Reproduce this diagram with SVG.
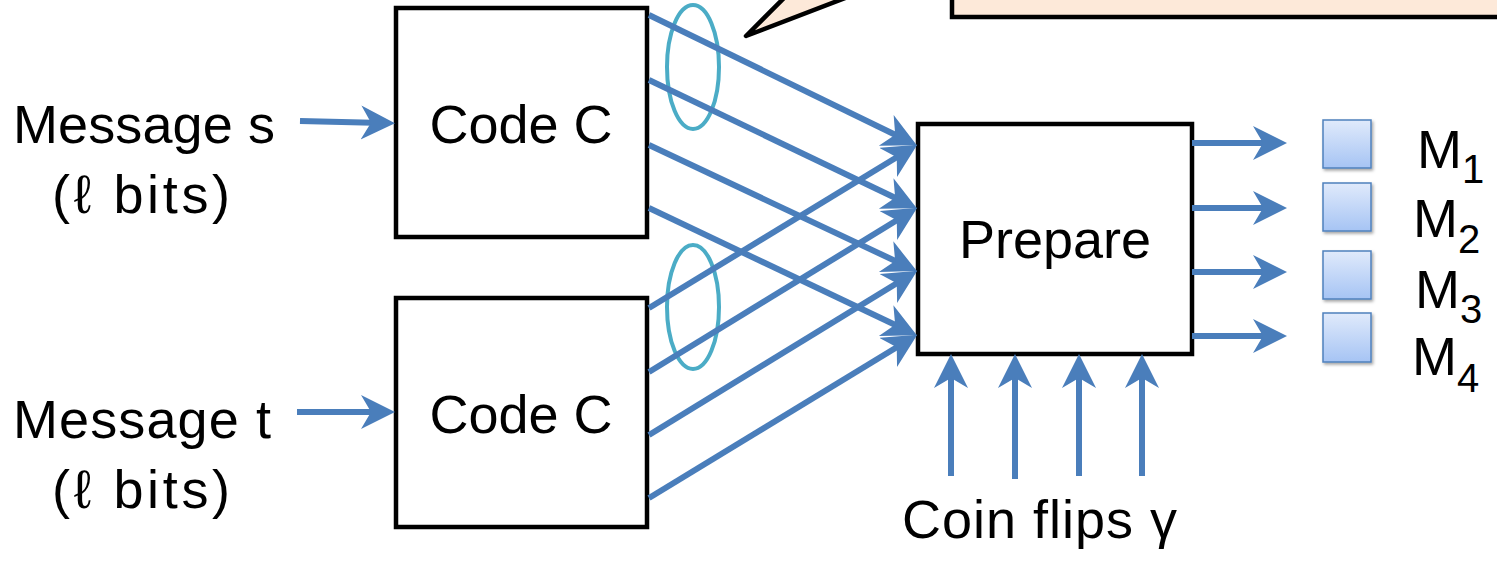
<svg xmlns="http://www.w3.org/2000/svg" width="1497" height="562" viewBox="0 0 1497 562">
<style>
.box{fill:#fff;stroke:#000;stroke-width:4.5}
.t{font-family:"Liberation Sans",Arial,sans-serif;font-size:54px;fill:#000}
.m{text-anchor:middle}
.c{fill:none;stroke:#4a7ebb;stroke-width:6;marker-end:url(#ah)}
.ring{fill:none;stroke:#4bacc6;stroke-width:4}
.sq{fill:url(#gq);stroke:#4f81bd;stroke-width:1.5;filter:url(#sh)}
</style>
<defs>
<marker id="ah" markerUnits="userSpaceOnUse" markerWidth="40" markerHeight="40" refX="22" refY="17" orient="auto">
<path d="M0,0 L34,17 L0,34 L10,17 z" fill="#4a7ebb"/>
</marker>
<linearGradient id="gq" x1="0" y1="0" x2="0" y2="1">
<stop offset="0" stop-color="#e0eafb"/>
<stop offset="1" stop-color="#a6c4f4"/>
</linearGradient>
<filter id="sh" x="-20%" y="-20%" width="150%" height="150%">
<feDropShadow dx="1.5" dy="2" stdDeviation="1.5" flood-color="#000" flood-opacity="0.35"/>
</filter>
</defs>

<g id="callout">
<rect x="952" y="-100" width="700" height="117" fill="#fde9d9" stroke="#000" stroke-width="4.5"/>
<path d="M787,-5 L746,36 L853,-5" fill="#fde9d9" stroke="#000" stroke-width="4.5" stroke-linejoin="round"/>
</g>

<g id="label-s">
<text class="t" x="13" y="143" textLength="262" lengthAdjust="spacing">Message s</text>
<text class="t" x="52" y="213" font-size="56" textLength="178" lengthAdjust="spacing">(ℓ bits)</text>
</g>
<g id="label-t">
<text class="t" x="13" y="438" textLength="258" lengthAdjust="spacing">Message t</text>
<text class="t" x="52" y="508" font-size="56" textLength="178" lengthAdjust="spacing">(ℓ bits)</text>
</g>

<g id="code1">
<rect class="box" x="396" y="8" width="251" height="229"/>
<text class="t m" x="521" y="143">Code C</text>
</g>
<g id="code2">
<rect class="box" x="396" y="298" width="251" height="229"/>
<text class="t m" x="521" y="433">Code C</text>
</g>

<g id="prepare">
<rect class="box" x="918" y="124" width="274" height="230"/>
<text class="t m" x="1055" y="258">Prepare</text>
</g>

<g id="coin">
<text class="t" x="902" y="538" font-size="56" textLength="275" lengthAdjust="spacing">Coin flips γ</text>
</g>

<g id="outputs">
<rect class="sq" x="1323" y="120" width="48" height="48"/>
<rect class="sq" x="1323" y="183" width="48" height="48"/>
<rect class="sq" x="1323" y="251" width="48" height="48"/>
<rect class="sq" x="1323" y="313" width="48" height="49"/>
<text class="t" x="1417" y="168">M<tspan font-size="40" dy="15">1</tspan></text>
<text class="t" x="1413" y="237">M<tspan font-size="40" dy="16">2</tspan></text>
<text class="t" x="1415" y="308">M<tspan font-size="40" dy="15">3</tspan></text>
<text class="t" x="1412" y="375">M<tspan font-size="40" dy="17">4</tspan></text>
</g>

<g id="rings">
<ellipse class="ring" cx="693" cy="67" rx="26" ry="62"/>
<ellipse class="ring" cx="693" cy="307" rx="26" ry="62"/>
</g>

<g id="connectors">
<line class="c" x1="300" y1="121" x2="383" y2="123"/>
<line class="c" x1="297" y1="412" x2="383" y2="412"/>
<line class="c" x1="649" y1="15" x2="906" y2="140"/>
<line class="c" x1="649" y1="80" x2="906" y2="203"/>
<line class="c" x1="649" y1="145" x2="906" y2="266"/>
<line class="c" x1="649" y1="208" x2="906" y2="330"/>
<line class="c" x1="649" y1="308" x2="907" y2="151"/>
<line class="c" x1="649" y1="372" x2="907" y2="214"/>
<line class="c" x1="649" y1="435" x2="907" y2="277"/>
<line class="c" x1="649" y1="498" x2="907" y2="341"/>
<line class="c" x1="1192" y1="143" x2="1275" y2="143"/>
<line class="c" x1="1192" y1="208" x2="1275" y2="208"/>
<line class="c" x1="1192" y1="272" x2="1275" y2="272"/>
<line class="c" x1="1192" y1="336" x2="1275" y2="336"/>
<line class="c" x1="951" y1="476" x2="951" y2="366"/>
<line class="c" x1="1015" y1="479" x2="1015" y2="366"/>
<line class="c" x1="1079" y1="476" x2="1079" y2="366"/>
<line class="c" x1="1142" y1="476" x2="1142" y2="366"/>
</g>
</svg>
